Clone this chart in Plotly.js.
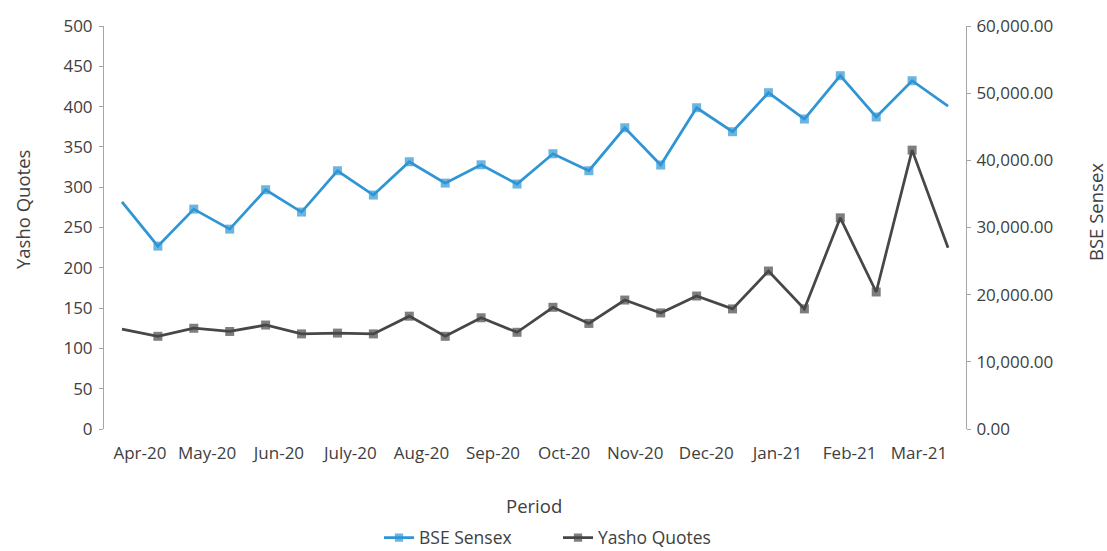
<!DOCTYPE html>
<html>
<head>
<meta charset="utf-8">
<script src="https://cdn.plot.ly/plotly-3.0.1.min.js"></script>
<style>html,body{margin:0;padding:0;background:#fff;}#chart{width:1107px;height:551px;}</style>
</head>
<body>
<div id="chart"></div>
<script>
// Month labels (each month has two readings: high and low)
const months = ["Apr-20","May-20","Jun-20","July-20","Aug-20","Sep-20","Oct-20","Nov-20","Dec-20","Jan-21","Feb-21","Mar-21"];
// BSE Sensex (right axis)
const sensex = [33830, 27230, 32740, 29760, 35620, 32300, 38450, 34830, 39790, 36610, 39340, 36470,
                40980, 38450, 44850, 39300, 47830, 44260, 50070, 46150, 52600, 46450, 51850, 48080];
// Yasho Quotes (left axis)
const yasho = [124, 115, 125, 121, 129, 118, 119, 118, 140, 115, 138, 120,
               151, 131, 160, 144, 165, 149, 196, 149, 262, 170, 346, 225];

const idx = sensex.map((_, i) => i);
const msize = idx.map(i => (i === 0 || i === idx.length - 1) ? 0 : 9);
const labelPos = [0.50, 2.37, 4.37, 6.36, 8.34, 10.33, 12.31, 14.29, 16.27, 18.25, 20.26, 22.19];

const FAM = "Open Sans, Noto Sans, sans-serif";
const tickFont = {family: FAM, size: 17, color: "#404040"};
const titleFont = {family: FAM, size: 18.5, color: "#404040"};
const legFont = {family: FAM, size: 17.5, color: "#404040"};

const traces = [
  {
    name: "BSE Sensex", x: idx, y: sensex, yaxis: "y2", type: "scatter", mode: "lines+markers",
    line: {color: "#2F95D4", width: 2.75},
    marker: {symbol: "square", size: msize, color: "#2F95D4", line: {width: 0}}
  },
  {
    name: "Yasho Quotes", x: idx, y: yasho, yaxis: "y", type: "scatter", mode: "lines+markers",
    line: {color: "#474747", width: 2.75},
    marker: {symbol: "square", size: msize, color: "#474747", line: {width: 0}}
  }
];

// plot area in pixels: x 104..966, y 26..429
const PL = 104, PW = 862, PT = 26, PH = 403;
const px = v => (v - PL) / PW;
const py = v => (PT + PH - v) / PH;

const layout = {
  width: 1107, height: 551,
  margin: {l: 104, r: 141, t: 26, b: 122, autoexpand: false},
  paper_bgcolor: "#fff", plot_bgcolor: "#fff",
  font: tickFont,
  showlegend: true,
  legend: {orientation: "h", x: px(379), xanchor: "left", yref: "container", y: 0.024, yanchor: "middle",
           font: legFont, traceorder: "normal", entrywidth: 134, entrywidthmode: "pixels"},
  xaxis: {
    range: [-0.5, 23.5], tickmode: "array", tickvals: labelPos, ticktext: months,
    showgrid: false, zeroline: false, showline: false, ticks: "", ticklabelstandoff: 12,
    tickfont: tickFont, automargin: false
  },
  yaxis: {
    range: [0, 500], dtick: 50, tick0: 0, showgrid: false, zeroline: false,
    showline: true, linecolor: "#a6a6a6", linewidth: 1, ticks: "outside", ticklen: 4, tickcolor: "#a6a6a6",
    ticklabelstandoff: 3, tickfont: tickFont, automargin: false
  },
  yaxis2: {
    range: [0, 60000], dtick: 10000, tick0: 0, overlaying: "y", side: "right", tickformat: ",.2f",
    showgrid: false, zeroline: false,
    showline: true, linecolor: "#a6a6a6", linewidth: 1, ticks: "outside", ticklen: 4, tickcolor: "#a6a6a6",
    ticklabelstandoff: 2, tickfont: tickFont, automargin: false
  },
  annotations: [
    {text: "Yasho Quotes", xref: "paper", yref: "paper", x: px(22), y: py(210), xanchor: "center", yanchor: "middle",
     textangle: -90, showarrow: false, font: titleFont},
    {text: "BSE Sensex", xref: "paper", yref: "paper", x: px(1095), y: py(212), xanchor: "center", yanchor: "middle",
     textangle: -90, showarrow: false, font: titleFont},
    {text: "Period", xref: "paper", yref: "paper", x: px(534), y: py(505), xanchor: "center", yanchor: "middle",
     showarrow: false, font: titleFont}
  ]
};

Plotly.newPlot("chart", traces, layout, {displayModeBar: false, staticPlot: true});
</script>
</body>
</html>
